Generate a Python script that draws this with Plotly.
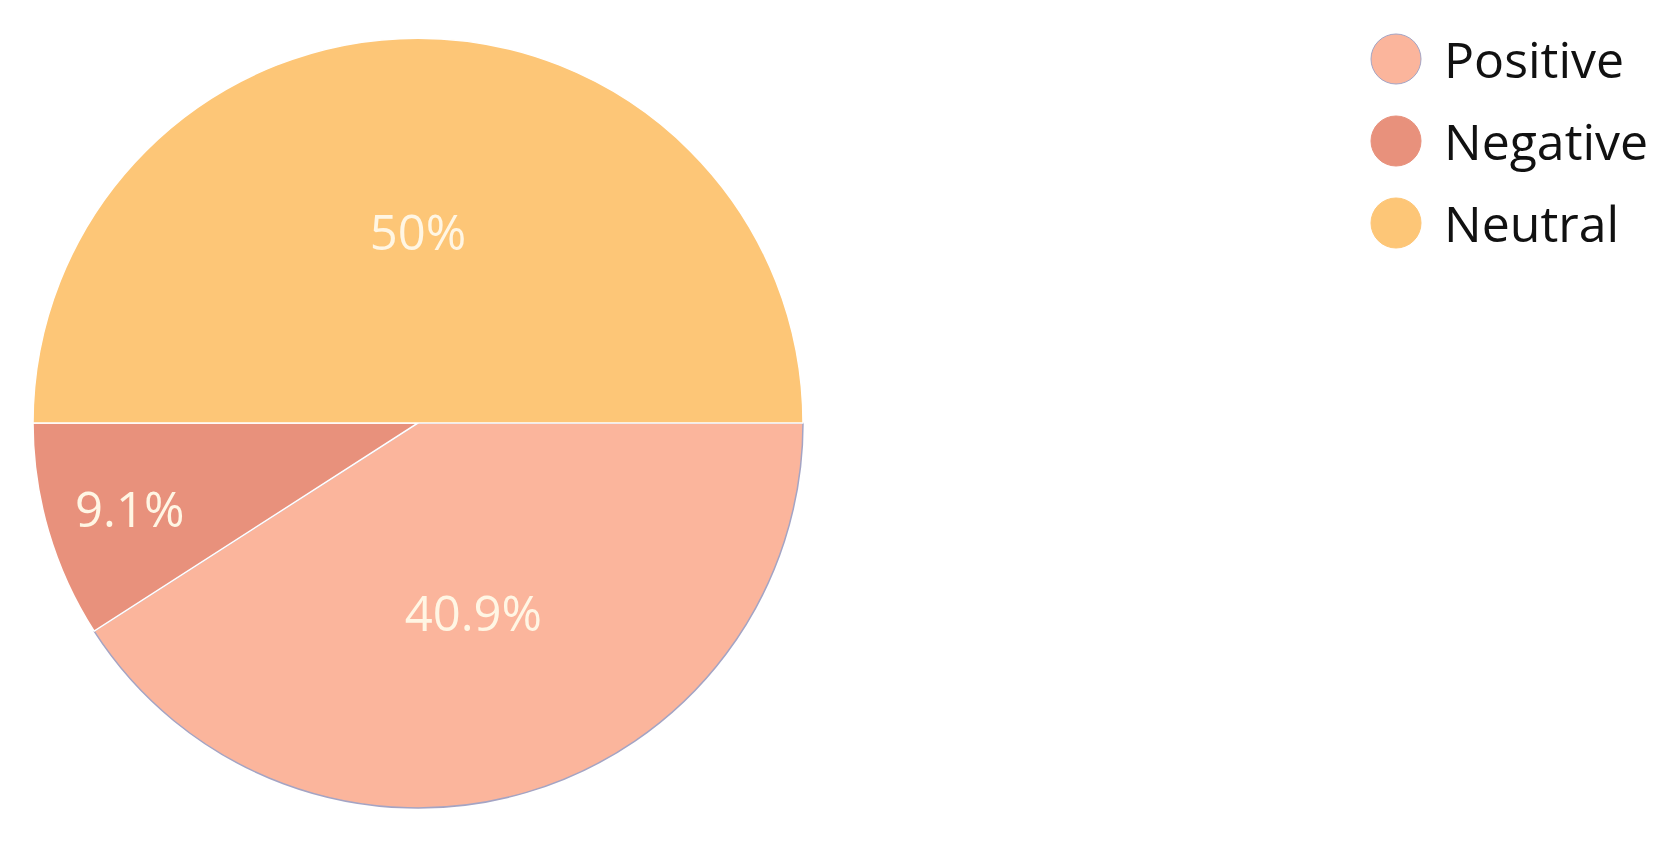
import plotly.graph_objects as go

labels = ['Positive', 'Negative', 'Neutral']
counts = [9, 2, 11]
colors = ['#fbb59c', '#e8917c', '#fdc677']
outline = ['#a4a4c4', '#ffffff', '#ffffff']

total = sum(counts)
texts = ['{:g}%'.format(round(c / total * 100, 1)) for c in counts]

# page body keeps its 8px margin, so the figure is 16px smaller than the window
W, H = 1651, 840

fig = go.Figure()
fig.add_trace(go.Pie(
    labels=labels,
    values=counts,
    text=texts,
    textinfo='text',
    textposition='inside',
    insidetextorientation='horizontal',
    textfont={'family': 'Open Sans', 'size': 49, 'color': '#fff6e4'},
    marker={'colors': colors, 'line': {'color': outline, 'width': 1.5}},
    sort=False,
    direction='clockwise',
    rotation=90,
    showlegend=False,
    hoverinfo='label+percent',
    domain={'x': [25 / W, 795 / W], 'y': [1 - 800 / H, 1 - 30 / H]},
))

# custom legend with big round swatches
shapes = []
annotations = []
for i, (name, col, oc) in enumerate(zip(labels, colors, outline)):
    cy = 51 + i * 82
    shapes.append(dict(
        type='circle', xref='paper', yref='paper',
        x0=1363 / W, x1=1413 / W,
        y0=1 - (cy + 25) / H, y1=1 - (cy - 25) / H,
        fillcolor=col, line={'color': oc if i == 0 else col, 'width': 1},
    ))
    annotations.append(dict(
        text=name, xref='paper', yref='paper',
        x=1434 / W, y=1 - cy / H, xanchor='left', yanchor='middle',
        showarrow=False,
        font={'family': 'Open Sans', 'size': 50, 'color': '#111111'},
    ))

fig.update_layout(
    width=W,
    height=H,
    margin={'l': 0, 'r': 0, 't': 0, 'b': 0},
    paper_bgcolor='white',
    plot_bgcolor='white',
    shapes=shapes,
    annotations=annotations,
)

fig.write_html('out.html')
